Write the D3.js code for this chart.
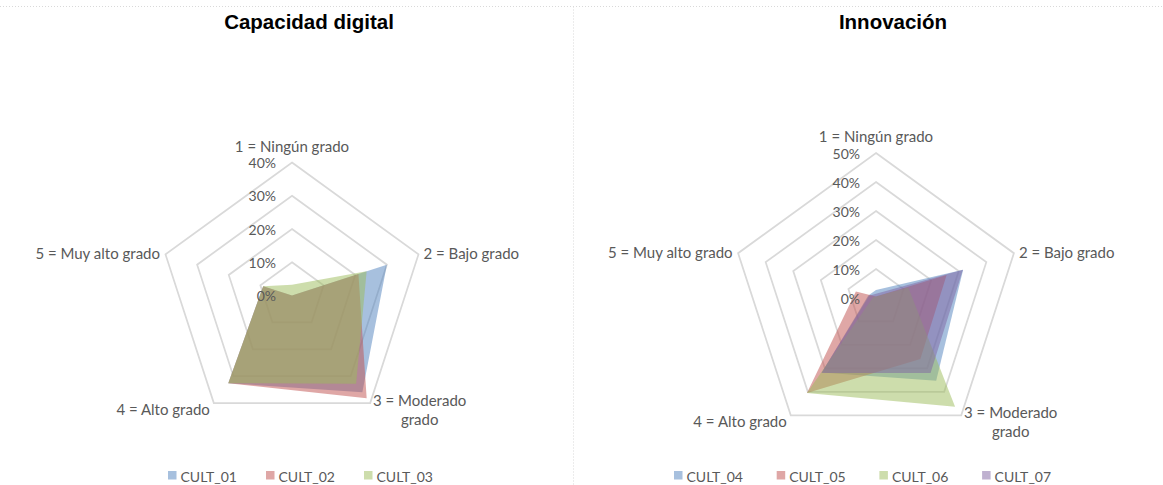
<!DOCTYPE html>
<html>
<head>
<meta charset="utf-8">
<script src="https://cdn.jsdelivr.net/npm/d3@7/dist/d3.min.js"></script>
<style>
  html, body { margin: 0; padding: 0; background: #fff; }
  svg { display: block; }
  .title { font-family: "Liberation Sans", Arial, sans-serif; font-weight: bold; font-size: 20.5px; fill: #000; }
  .lbl { font-family: Lato, "Noto Sans", sans-serif; font-size: 14px; fill: #595959; }
  .cat { font-size: 15px; }
</style>
</head>
<body>
<svg id="chart" width="1163" height="485"></svg>
<script>
// Response categories (radar axes, clockwise from the top)
const categories = ["1 = Ningún grado", "2 = Bajo grado", "3 = Moderado grado", "4 = Alto grado", "5 = Muy alto grado"];

// Capacidad digital — share of responses (%)
const cult01 = [0, 30, 36, 32.6, 9.1];
const cult02 = [0, 21, 38.2, 32.6, 9.1];
const cult03 = [3.2, 23.6, 32.8, 32.6, 9.1];

// Innovación — share of responses (%)
const cult04 = [2.8, 31.6, 35.3, 31.8, 2.8];
const cult05 = [0.5, 25.6, 26, 40.5, 7.3];
const cult06 = [0.5, 11.7, 46.4, 40.5, 1];
const cult07 = [1.5, 31.5, 32, 32, 2.5];

// Radial tick values
const ticksDigital = [0, 10, 20, 30, 40];
const ticksInnovacion = [0, 10, 20, 30, 40, 50];

const palette = {
  CULT_01: "#4F81BD", CULT_02: "#C0504D", CULT_03: "#9BBB59",
  CULT_04: "#4F81BD", CULT_05: "#C0504D", CULT_06: "#9BBB59", CULT_07: "#8064A2"
};

const svg = d3.select("#chart");

// Panel frame: dotted top edge and divider
svg.append("line").attr("x1", 0).attr("x2", 1163).attr("y1", 6.5).attr("y2", 6.5)
  .attr("stroke", "#d9d9d9").attr("stroke-width", 1).attr("stroke-dasharray", "1,2");
svg.append("line").attr("x1", 573.5).attr("x2", 573.5).attr("y1", 6.5).attr("y2", 485)
  .attr("stroke", "#d9d9d9").attr("stroke-width", 1).attr("stroke-dasharray", "1,2");

function radar(opts) {
  const { cx, cy, radius, ticks, series, title, titleX, legendX, legendStep } = opts;
  const g = svg.append("g");
  const n = categories.length;
  const maxV = ticks[ticks.length - 1];
  const r = d3.scaleLinear().domain([0, maxV]).range([0, radius]);
  const ang = i => i * 2 * Math.PI / n;
  const pt = (i, v) => [cx + r(v) * Math.sin(ang(i)), cy - r(v) * Math.cos(ang(i))];

  // title
  g.append("text").attr("class", "title").attr("x", titleX).attr("y", 29)
    .attr("text-anchor", "middle").text(title);

  // grid rings
  const ring = d3.lineRadial().angle((d, i) => ang(i)).radius(d => r(d)).curve(d3.curveLinearClosed);
  const plot = g.append("g").attr("transform", `translate(${cx},${cy})`);
  plot.selectAll("path.ring").data(ticks.filter(t => t > 0)).join("path")
    .attr("class", "ring")
    .attr("d", t => ring(d3.range(n).map(() => t)))
    .attr("fill", "none").attr("stroke", "#d9d9d9").attr("stroke-width", 1.75);

  // series areas
  const area = d3.lineRadial().angle((d, i) => ang(i)).radius(d => r(d)).curve(d3.curveLinearClosed);
  plot.selectAll("path.series").data(series).join("path")
    .attr("class", "series")
    .attr("d", s => area(s.values))
    .attr("fill", s => palette[s.name]).attr("fill-opacity", 0.5).attr("stroke", "none");

  // tick labels
  g.selectAll("text.tick").data(ticks).join("text")
    .attr("class", "lbl tick")
    .attr("x", cx - 16).attr("y", t => cy - r(t))
    .attr("text-anchor", "end").attr("dominant-baseline", "central")
    .text(t => t + "%");

  // category labels around the outer ring
  const offs = [
    { dx: 0, dy: -17, anchor: "middle" },
    { dx: 5, dy: -1, anchor: "start" },
    { dx: 49.5, dy: -3.5, anchor: "middle" },
    { dx: -4, dy: 5.5, anchor: "end" },
    { dx: -5.5, dy: -1, anchor: "end" }
  ];
  categories.forEach((c, i) => {
    const [x, y] = pt(i, maxV);
    const o = offs[i];
    const lines = i === 2 ? ["3 = Moderado", "grado"] : [c];
    const t = g.append("text").attr("class", "lbl cat").attr("text-anchor", o.anchor)
      .attr("dominant-baseline", "central");
    lines.forEach((ln, k) => {
      t.append("tspan").attr("x", x + o.dx).attr("y", y + o.dy + k * 19).text(ln);
    });
  });

  // legend
  const lg = g.append("g");
  series.forEach((s, k) => {
    const x = legendX + k * legendStep;
    lg.append("rect").attr("x", x).attr("y", 471).attr("width", 8.5).attr("height", 8.5)
      .attr("fill", palette[s.name]).attr("fill-opacity", 0.5);
    lg.append("text").attr("class", "lbl").attr("x", x + 12.5).attr("y", 476)
      .attr("dominant-baseline", "central").text(s.name);
  });
}

radar({
  cx: 292, cy: 295.5, radius: 133, ticks: ticksDigital,
  title: "Capacidad digital", titleX: 309,
  legendX: 168, legendStep: 98,
  series: [
    { name: "CULT_01", values: cult01 },
    { name: "CULT_02", values: cult02 },
    { name: "CULT_03", values: cult03 }
  ]
});

radar({
  cx: 876, cy: 298, radius: 145, ticks: ticksInnovacion,
  title: "Innovación", titleX: 893,
  legendX: 674, legendStep: 102.7,
  series: [
    { name: "CULT_04", values: cult04 },
    { name: "CULT_05", values: cult05 },
    { name: "CULT_06", values: cult06 },
    { name: "CULT_07", values: cult07 }
  ]
});
</script>
</body>
</html>
